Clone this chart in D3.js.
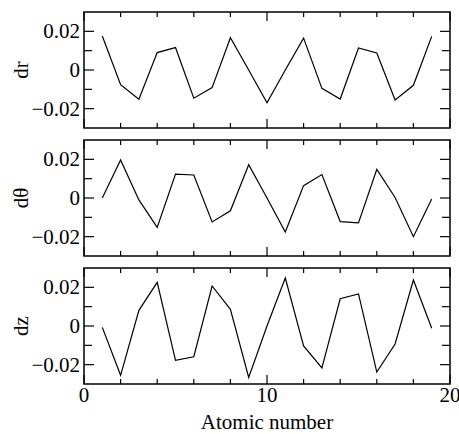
<!DOCTYPE html>
<html>
<head>
<meta charset="utf-8">
<script src="https://cdn.jsdelivr.net/npm/d3@7"></script>
<style>
  body { margin: 0; background: #fff; }
</style>
</head>
<body>
<svg width="459" height="434" font-family="Liberation Serif, DejaVu Serif, serif"></svg>
<script>
// atomic numbers along the chain
var atoms = d3.range(1, 20);

var dr = [0.0176, -0.0076, -0.0151, 0.0090, 0.0116, -0.0146, -0.0091, 0.0167, 0.0000, -0.0170,
  0.0000, 0.0165, -0.0095, -0.0150, 0.0114, 0.0088, -0.0155, -0.0079, 0.0174];

var dtheta = [0.0000, 0.0197, -0.0010, -0.0152, 0.0124, 0.0119, -0.0124, -0.0066, 0.0172, 0.0000,
  -0.0176, 0.0064, 0.0121, -0.0122, -0.0129, 0.0148, 0.0003, -0.0200, -0.0005];

var dz = [-0.0007, -0.0255, 0.0081, 0.0226, -0.0178, -0.0159, 0.0207, 0.0086, -0.0266, 0.0000,
  0.0248, -0.0103, -0.0217, 0.0141, 0.0166, -0.0238, -0.0093, 0.0238, -0.0012];

var panels = [
  { label: "dr", values: dr },
  { label: "dθ", values: dtheta },
  { label: "dz", values: dz }
];

var yTicks = [-0.02, 0, 0.02];
var yMinor = [-0.01, 0.01];
var xTicks = [0, 10, 20];
var xMinor = [2, 4, 6, 8, 12, 14, 16, 18];

var svg = d3.select("svg");

var left = 84, right = 450,
  top0 = 12, ph = 116, gap = 12;

var x = d3.scaleLinear().domain([0, 20]).range([left, right]);

var fmt = function (d) { return d === 0 ? "0" : d3.format(".2f")(d).replace("-", "\u2212"); };

panels.forEach(function (p, i) {
  var t = top0 + i * (ph + gap);
  var y = d3.scaleLinear().domain([-0.03, 0.03]).range([t + ph, t]);
  var g = svg.append("g");

  // tick marks, inward on all four sides
  var ticks = g.append("g").attr("stroke", "#000").attr("stroke-width", 1.2);
  xTicks.concat(xMinor).forEach(function (v) {
    var len = xTicks.indexOf(v) >= 0 ? 9 : 5;
    ticks.append("line").attr("x1", x(v)).attr("x2", x(v)).attr("y1", t + ph).attr("y2", t + ph - len);
    ticks.append("line").attr("x1", x(v)).attr("x2", x(v)).attr("y1", t).attr("y2", t + len);
  });
  yTicks.concat(yMinor).forEach(function (v) {
    var len = yTicks.indexOf(v) >= 0 ? 10 : 8;
    ticks.append("line").attr("x1", left).attr("x2", left + len).attr("y1", y(v)).attr("y2", y(v));
    ticks.append("line").attr("x1", right).attr("x2", right - len).attr("y1", y(v)).attr("y2", y(v));
  });

  g.append("rect")
    .attr("x", left).attr("y", t)
    .attr("width", right - left).attr("height", ph)
    .attr("fill", "none").attr("stroke", "#000").attr("stroke-width", 1.5);

  g.selectAll(".ylab")
    .data(yTicks)
    .enter().append("text")
    .attr("x", left - 4)
    .attr("y", d => y(d))
    .attr("dy", "0.34em")
    .attr("text-anchor", "end")
    .attr("font-size", 21)
    .text(fmt);

  g.append("text")
    .attr("transform", `translate(28,${t + ph / 2}) rotate(-90)`)
    .attr("text-anchor", "middle")
    .attr("font-size", 21)
    .text(p.label);

  var line = d3.line()
    .x((d, j) => x(atoms[j]))
    .y(d => y(d));

  g.append("path")
    .datum(p.values)
    .attr("d", line)
    .attr("fill", "none")
    .attr("stroke", "#000")
    .attr("stroke-width", 1.2);

  if (i === panels.length - 1) {
    g.selectAll(".xlab")
      .data(xTicks)
      .enter().append("text")
      .attr("x", d => x(d))
      .attr("y", t + ph + 18)
      .attr("text-anchor", "middle")
      .attr("font-size", 21)
      .text(d => d);
  }
});

svg.append("text")
  .attr("x", x(10))
  .attr("y", 429)
  .attr("text-anchor", "middle")
  .attr("font-size", 21)
  .text("Atomic number");
</script>
</body>
</html>
